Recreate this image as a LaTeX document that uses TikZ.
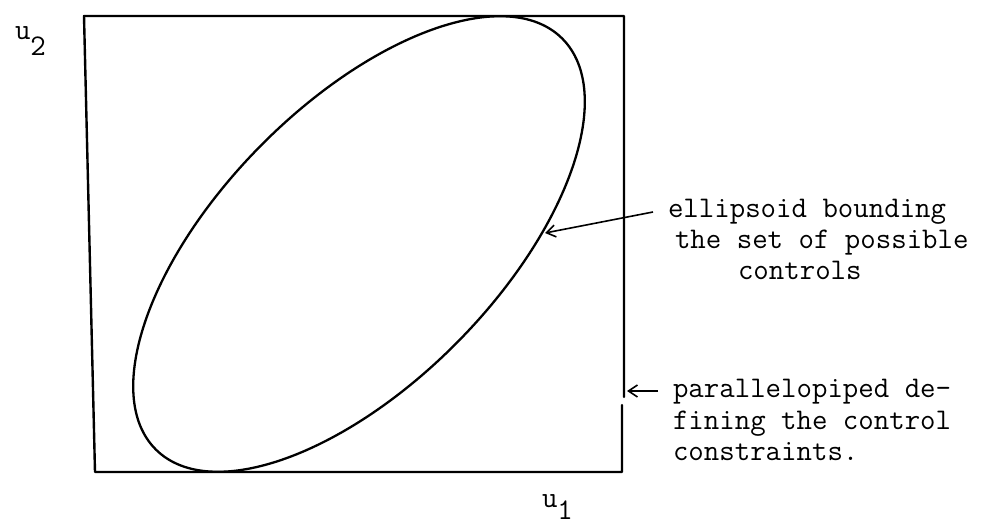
\documentclass[tikz,border=0pt]{standalone}
\usetikzlibrary{shapes.geometric,arrows.meta}
\tikzset{
  lbl/.style={font=\fontsize{30}{31}\selectfont\ttfamily, anchor=base west, inner sep=0pt, outer sep=0pt},
  frame/.style={line width=2.4pt, line join=round, line cap=round},
  ovalline/.style={draw, ellipse, line width=2.3pt, inner sep=0pt, outer sep=0pt},
  ptr/.style={line width=1.6pt, -{Straight Barb[length=9pt,width=12pt]}},
}
\begin{document}
\begin{tikzpicture}[x=1pt,y=-1pt]
\useasboundingbox (0,0) rectangle (987,529);
% frame (parallelepiped)
\draw[frame] (624,397) -- (624,16) -- (84,16) -- (95,472) -- (622,472) -- (622,405);
% ellipsoid
\node[ovalline, minimum width=578pt, minimum height=278pt, rotate=45.4] (ell) at (359,244) {};
% axis labels
\node[lbl] (u2) at (15,40) {u\raisebox{-16pt}{2}};
\node[lbl] (u1) at (542,507) {u\raisebox{-12pt}{1}};
% annotation texts
\node[lbl] (e1) at (668,218) {ellipsoid bounding};
\node[lbl] (e2) at (675,248) {the set of possible};
\node[lbl] (e3) at (738,279) {controls};
\node[lbl] (p1) at (673,397) {parallelopiped de-};
\node[lbl] (p2) at (673,429) {fining the control};
\node[lbl] (p3) at (673,460) {constraints.};
% pointers
\coordinate (ea) at (653,212);
\coordinate (eh) at (545,233);
\draw[ptr] (ea) -- (eh);
\coordinate (pa) at (658,391);
\coordinate (ph) at (627,391);
\draw[ptr] (pa) -- (ph);
\end{tikzpicture}
\end{document}
